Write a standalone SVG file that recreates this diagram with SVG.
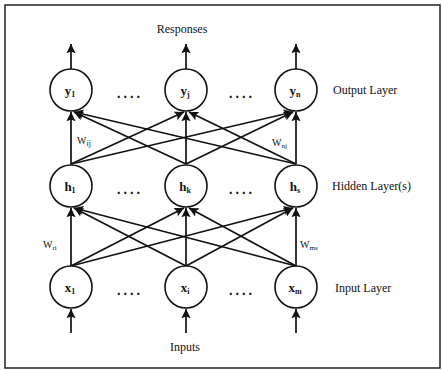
<svg xmlns="http://www.w3.org/2000/svg" width="442" height="371" viewBox="0 0 442 371">
<style>
.node{fill:#fff;stroke:#111;stroke-width:1.6}
.nl{font-family:"Liberation Serif",serif;font-weight:bold;font-size:13px;fill:#111;text-anchor:middle}
.sub{font-size:8px}
.lab{font-family:"Liberation Serif",serif;font-size:12px;fill:#111}
.w{font-family:"Liberation Serif",serif;font-size:10px;fill:#111}
.dots{font-family:"Liberation Serif",serif;font-size:14px;font-weight:bold;fill:#111;text-anchor:middle;letter-spacing:3px}
.e{stroke:#111;stroke-width:1.7;fill:none;marker-end:url(#ah)}
</style>
<defs>
<marker id="ah" viewBox="0 0 10 10" refX="10" refY="5" markerWidth="5.5" markerHeight="5.5" markerUnits="strokeWidth" orient="auto">
<path d="M0,0 L10,5 L0,10 L2,5 Z" fill="#111"/>
</marker>
</defs>
<rect x="5" y="5" width="435" height="363" fill="#fff" stroke="#222" stroke-width="1.5"/>
<text class="lab" x="182" y="33" text-anchor="middle" font-size="11">Responses</text>
<text class="lab" x="185" y="351" text-anchor="middle">Inputs</text>
<text class="lab" x="333" y="94">Output Layer</text>
<text class="lab" x="332" y="190">Hidden Layer(s)</text>
<text class="lab" x="335" y="292">Input Layer</text>
<text class="dots" x="130" y="98">....</text>
<text class="dots" x="242" y="98">....</text>
<text class="dots" x="130" y="194">....</text>
<text class="dots" x="242" y="194">....</text>
<text class="dots" x="130" y="295">....</text>
<text class="dots" x="242" y="295">....</text>
<g id="connectors">
<line class="e" x1="71" y1="69" x2="71" y2="44"/>
<line class="e" x1="186" y1="69" x2="186" y2="44"/>
<line class="e" x1="296" y1="69" x2="296" y2="44"/>
<line class="e" x1="71" y1="333" x2="71" y2="309"/>
<line class="e" x1="186" y1="333" x2="186" y2="309"/>
<line class="e" x1="296" y1="333" x2="296" y2="309"/>
<line class="e" x1="71" y1="164" x2="71" y2="112"/>
<line class="e" x1="71" y1="164" x2="184" y2="112"/>
<line class="e" x1="71" y1="164" x2="293" y2="112"/>
<line class="e" x1="186" y1="164" x2="74" y2="112"/>
<line class="e" x1="186" y1="164" x2="186" y2="112"/>
<line class="e" x1="186" y1="164" x2="293" y2="112"/>
<line class="e" x1="296" y1="164" x2="74" y2="112"/>
<line class="e" x1="296" y1="164" x2="189" y2="112"/>
<line class="e" x1="296" y1="164" x2="296" y2="112"/>
<line class="e" x1="71" y1="266" x2="71" y2="208"/>
<line class="e" x1="71" y1="266" x2="184" y2="208"/>
<line class="e" x1="71" y1="266" x2="293" y2="208"/>
<line class="e" x1="186" y1="266" x2="74" y2="208"/>
<line class="e" x1="186" y1="266" x2="186" y2="208"/>
<line class="e" x1="186" y1="266" x2="293" y2="208"/>
<line class="e" x1="296" y1="266" x2="74" y2="208"/>
<line class="e" x1="296" y1="266" x2="189" y2="208"/>
<line class="e" x1="296" y1="266" x2="296" y2="208"/>
</g>
<text class="w" x="77" y="144">W<tspan class="sub" font-size="7" dy="2">ij</tspan></text>
<text class="w" x="272" y="146">W<tspan font-size="7" dy="2">nj</tspan></text>
<text class="w" x="43" y="248">W<tspan font-size="7" dy="2">ri</tspan></text>
<text class="w" x="300" y="248">W<tspan font-size="7" dy="2">ms</tspan></text>
<g id="y1"><circle class="node" cx="71" cy="90" r="21"/><text class="nl" x="70" y="95">y<tspan class="sub" dy="2">1</tspan></text></g>
<g id="yj"><circle class="node" cx="186" cy="90" r="21"/><text class="nl" x="185" y="95">y<tspan class="sub" dy="2">j</tspan></text></g>
<g id="yn"><circle class="node" cx="296" cy="90" r="21"/><text class="nl" x="295" y="95">y<tspan class="sub" dy="2">n</tspan></text></g>
<g id="h1"><circle class="node" cx="71" cy="186" r="21"/><text class="nl" x="70" y="191">h<tspan class="sub" dy="2">1</tspan></text></g>
<g id="hk"><circle class="node" cx="186" cy="186" r="21"/><text class="nl" x="185" y="191">h<tspan class="sub" dy="2">k</tspan></text></g>
<g id="hs"><circle class="node" cx="296" cy="186" r="21"/><text class="nl" x="295" y="191">h<tspan class="sub" dy="2">s</tspan></text></g>
<g id="x1"><circle class="node" cx="71" cy="287" r="21"/><text class="nl" x="70" y="292">x<tspan class="sub" dy="2">1</tspan></text></g>
<g id="xi"><circle class="node" cx="186" cy="287" r="21"/><text class="nl" x="185" y="292">x<tspan class="sub" dy="2">i</tspan></text></g>
<g id="xm"><circle class="node" cx="296" cy="287" r="21"/><text class="nl" x="295" y="292">x<tspan class="sub" dy="2">m</tspan></text></g>
</svg>
